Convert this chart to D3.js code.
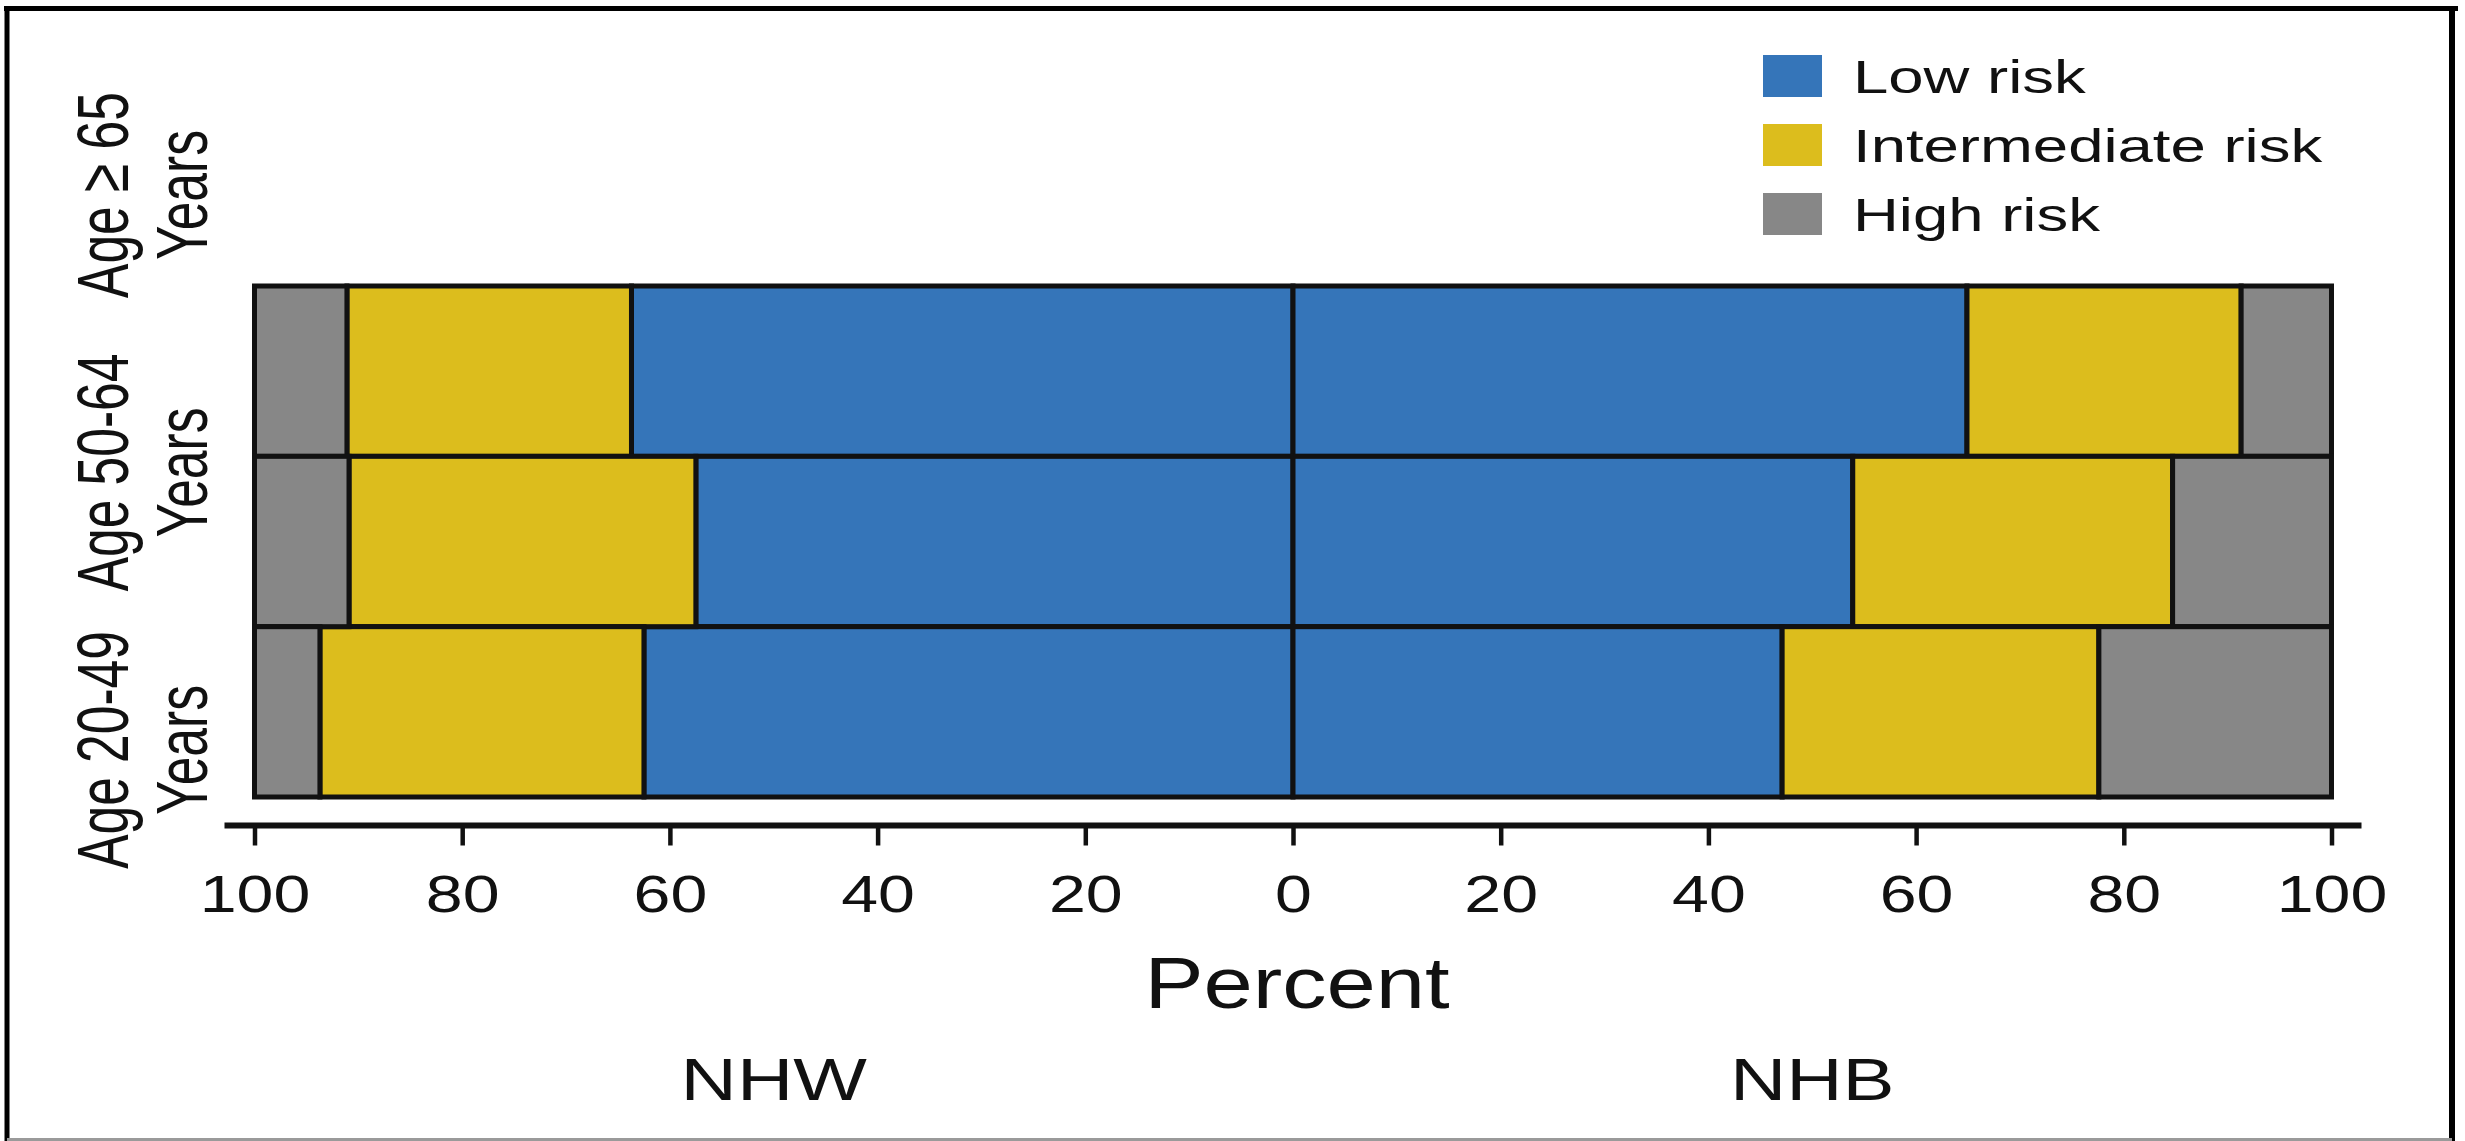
<!DOCTYPE html>
<html>
<head>
<meta charset="utf-8">
<script src="https://cdn.jsdelivr.net/npm/d3@7"></script>
<style>
  html, body { margin: 0; padding: 0; background: #fff; }
  svg { display: block; }
  text { font-family: "Liberation Sans", Arial, Helvetica, sans-serif; fill: #111; }
</style>
</head>
<body>
<svg id="chart" width="2465" height="1141"></svg>
<script>
// ---- Data ----
const ageGroups = ["Age ≥ 65 Years", "Age 50-64 Years", "Age 20-49 Years"];
const riskLevels = ["Low risk", "Intermediate risk", "High risk"];
const riskKeys = ["low", "intermediate", "high"];
const populations = ["NHW", "NHB"];
const nhwLow = [63.7, 57.5, 62.5];
const nhwIntermediate = [27.4, 33.4, 31.2];
const nhwHigh = [8.9, 9.1, 6.3];
const nhbLow = [64.9, 53.9, 47.1];
const nhbIntermediate = [26.4, 30.8, 30.5];
const nhbHigh = [8.7, 15.3, 22.4];
const tickValues = [-100, -80, -60, -40, -20, 0, 20, 40, 60, 80, 100];
const axisTitle = "Percent";

const colors = { low: "#3575b9", intermediate: "#dcbd1d", high: "#878787" };

// ---- Build tables ----
const nhwRows = ageGroups.map((a, i) => ({ age: a, low: nhwLow[i], intermediate: nhwIntermediate[i], high: nhwHigh[i] }));
const nhbRows = ageGroups.map((a, i) => ({ age: a, low: nhbLow[i], intermediate: nhbIntermediate[i], high: nhbHigh[i] }));
const stack = d3.stack().keys(riskKeys);
const nhwSeries = stack(nhwRows);
const nhbSeries = stack(nhbRows);

const svg = d3.select("#chart");

// ---- Scales ----
const x = d3.scaleLinear().domain([-100, 100]).range([254.5, 2331.5]);
const y = d3.scaleBand().domain(ageGroups).range([286, 797]).padding(0);
const labelY = d3.scalePoint().domain(ageGroups).range([195, 750]);
const legendY = d3.scalePoint().domain(riskLevels).range([76, 214]);
const popX = d3.scalePoint().domain(populations).range([x(-50), x(50)]);

// ---- Frame ----
svg.append("rect").attr("x", 0).attr("y", 0).attr("width", 2465).attr("height", 1141).attr("fill", "#fff");
svg.append("line").attr("x1", 4).attr("x2", 2458).attr("y1", 8.5).attr("y2", 8.5).attr("stroke", "#000").attr("stroke-width", 5);
svg.append("line").attr("x1", 7).attr("x2", 7).attr("y1", 6).attr("y2", 1141).attr("stroke", "#000").attr("stroke-width", 5);
svg.append("line").attr("x1", 2452).attr("x2", 2452).attr("y1", 6).attr("y2", 1141).attr("stroke", "#000").attr("stroke-width", 6);
svg.append("line").attr("x1", 7).attr("x2", 2452).attr("y1", 1139.5).attr("y2", 1139.5).attr("stroke", "#9a9a9a").attr("stroke-width", 3);

// ---- Bars ----
const barsG = svg.append("g");
function drawSide(series, sign) {
  series.forEach(s => {
    barsG.selectAll(null).data(s).enter().append("rect")
      .attr("x", d => Math.min(x(sign * d[0]), x(sign * d[1])))
      .attr("width", d => Math.abs(x(sign * d[1]) - x(sign * d[0])))
      .attr("y", d => y(d.data.age))
      .attr("height", y.bandwidth())
      .attr("fill", colors[s.key])
      .attr("stroke", "#111")
      .attr("stroke-width", 5);
  });
}
drawSide(nhwSeries, -1);
drawSide(nhbSeries, 1);

// ---- X axis ----
const axisY = 825.5;
const axisG = svg.append("g").attr("transform", `translate(0,${axisY})`)
  .call(d3.axisBottom(x).tickValues(tickValues).tickFormat(d => Math.abs(d)).tickSize(20).tickPadding(30.5));
axisG.select(".domain").remove();
axisG.selectAll(".tick line").attr("stroke", "#111").attr("stroke-width", 4.5);
axisG.selectAll(".tick text")
  .attr("font-size", 51)
  .attr("fill", "#111")
  .style("font-family", '"Liberation Sans", Arial, sans-serif')
  .attr("transform", "scale(1.3,1)");
axisG.append("line").attr("x1", x(-100) - 30).attr("x2", x(100) + 30)
  .attr("y1", 0).attr("y2", 0).attr("stroke", "#111").attr("stroke-width", 6);

// axis title
svg.append("text").attr("transform", `translate(${x(0) + 4},1008) scale(1.23,1)`)
  .attr("text-anchor", "middle").attr("font-size", 72).text(axisTitle);

// population labels
svg.selectAll(".pop").data(populations).enter().append("text")
  .attr("class", "pop")
  .attr("transform", d => `translate(${popX(d)},1100) scale(1.3,1)`)
  .attr("text-anchor", "middle").attr("font-size", 60).text(d => d);

// ---- Age labels (rotated, two lines) ----
const ageG = svg.selectAll(".age").data(ageGroups).enter().append("g").attr("class", "age");
ageG.append("text")
  .attr("transform", d => `translate(128,${labelY(d)}) scale(1.4,1) rotate(-90)`)
  .attr("text-anchor", "middle").attr("font-size", 51.5)
  .text(d => d.slice(0, d.lastIndexOf(" ")));
ageG.append("text")
  .attr("transform", d => `translate(207,${labelY(d)}) scale(1.4,1) rotate(-90)`)
  .attr("text-anchor", "middle").attr("font-size", 51.5)
  .text(d => d.slice(d.lastIndexOf(" ") + 1));

// ---- Legend ----
const legG = svg.selectAll(".leg").data(riskLevels).enter().append("g").attr("class", "leg");
legG.append("rect")
  .attr("x", 1763).attr("y", d => legendY(d) - 21)
  .attr("width", 59).attr("height", 42)
  .attr("fill", (d, i) => colors[riskKeys[i]]);
legG.append("text")
  .attr("transform", d => `translate(1853,${legendY(d) + 16.5}) scale(1.38,1)`)
  .attr("font-size", 46).text(d => d);
</script>
</body>
</html>
